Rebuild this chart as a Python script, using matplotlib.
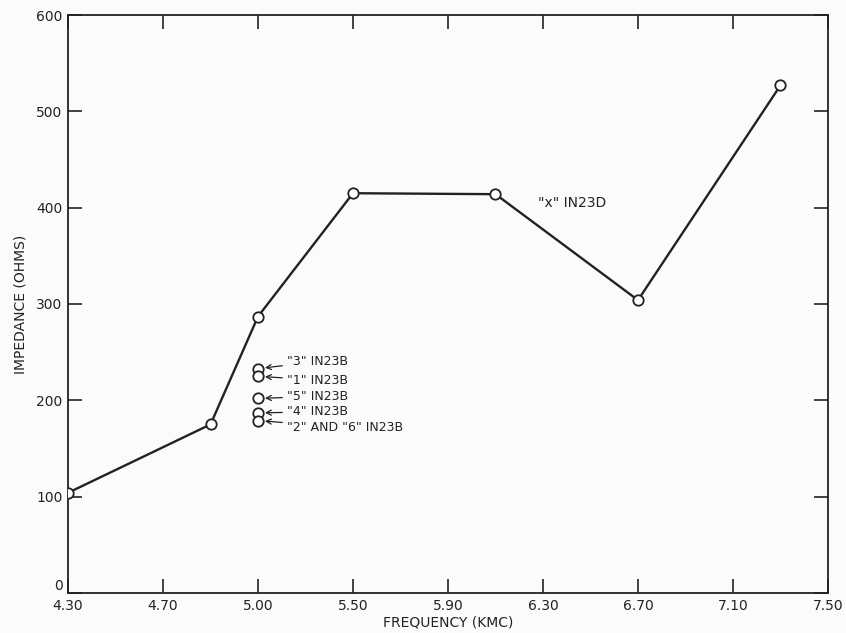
import numpy as np
import matplotlib.pyplot as plt
import matplotlib.transforms as mtransforms

# tick marks on the frequency axis are evenly spaced but not evenly valued
tick_freqs = [4.30, 4.70, 5.00, 5.50, 5.90, 6.30, 6.70, 7.10, 7.50]
tick_labels = ["4.30", "4.70", "5.00", "5.50", "5.90", "6.30", "6.70", "7.10", "7.50"]

# "x" IN23D curve
freq = [4.30, 4.85, 5.00, 5.50, 6.10, 6.70, 7.30]
impedance = [104, 175, 287, 415, 414, 304, 527]

# single diodes measured at 5.00 kmc
diode_freq = 5.00
diode_imp = [233, 225, 202, 187, 179]
diode_labels = ['"3" IN23B', '"1" IN23B', '"5" IN23B', '"4" IN23B', '"2" AND "6" IN23B']
label_imp = [240, 221, 204, 188, 172]

ink = "#222222"


def pos(f):
    # map frequency onto the evenly spaced tick grid
    return np.interp(f, tick_freqs, np.arange(len(tick_freqs)))


fig = plt.figure(figsize=(8.46, 6.33), dpi=100, facecolor="#fbfbfb")
ax = fig.add_axes([0.0804, 0.0632, 0.8983, 0.9131])
ax.set_facecolor("#fbfbfb")

ax.plot(pos(freq), impedance, color=ink, lw=1.7, marker="o", ms=7.5,
        mfc="white", mec=ink, mew=1.3, zorder=3)

ax.plot([pos(diode_freq)] * len(diode_imp), diode_imp, ls="none", marker="o",
        ms=7.5, mfc="white", mec=ink, mew=1.3, zorder=3)

for y, ty, lab in zip(diode_imp, label_imp, diode_labels):
    ax.annotate(lab, xy=(pos(diode_freq), y), xytext=(pos(5.15), ty),
                ha="left", va="center", fontsize=9, color=ink,
                arrowprops=dict(arrowstyle="->", color=ink, lw=0.9,
                                shrinkA=1, shrinkB=5))

ax.text(pos(6.28), 405, '"x" IN23D', ha="left", va="center",
        fontsize=10, color=ink)

ax.set_xlim(0, len(tick_freqs) - 1)
ax.set_ylim(0, 600)
ax.set_xticks(np.arange(len(tick_freqs)))
ax.set_xticklabels(tick_labels)
ax.set_yticks([0, 100, 200, 300, 400, 500, 600])

ax.tick_params(direction="in", length=10, width=1.2, color=ink,
               labelsize=10, labelcolor=ink, top=True, right=True, pad=4)
for s in ax.spines.values():
    s.set_color(ink)
    s.set_linewidth(1.3)

# lift the "0" so it sits above the 4.30 label like the original
zero = ax.get_yticklabels()[0]
zero.set_transform(zero.get_transform() +
                   mtransforms.ScaledTranslation(0, 6 / 72, fig.dpi_scale_trans))

ax.set_xlabel("FREQUENCY (KMC)", fontsize=10, color=ink, labelpad=2)
ax.set_ylabel("IMPEDANCE (OHMS)", fontsize=10, color=ink, labelpad=6)

fig.savefig("out.png", dpi=100, facecolor=fig.get_facecolor())
